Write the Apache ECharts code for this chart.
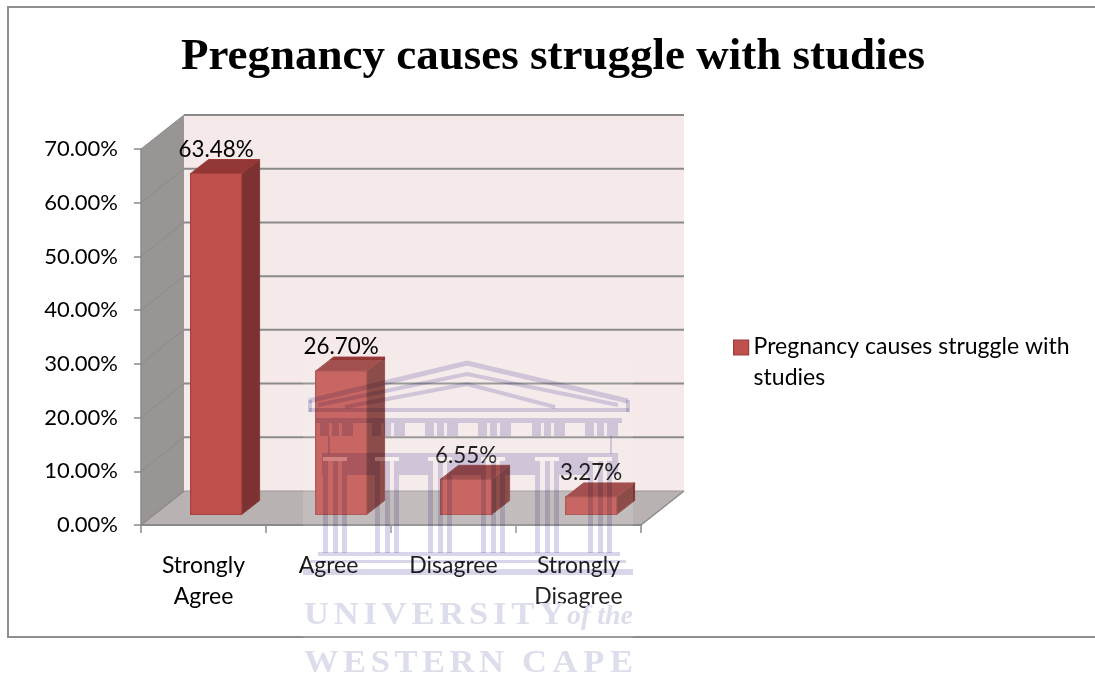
<!DOCTYPE html>
<html>
<head>
<meta charset="utf-8">
<script src="https://cdn.jsdelivr.net/npm/echarts@6/dist/echarts.min.js"></script>
<style>html,body{margin:0;padding:0;background:#fff}#chart{width:1095px;height:675px}</style>
</head>
<body>
<div id="chart"></div>
<script>
const categories = ['Strongly\nAgree', 'Agree', 'Disagree', 'Strongly\nDisagree'];
const percentages = [63.48, 26.70, 6.55, 3.27];
const axisTicks = [0, 10, 20, 30, 40, 50, 60, 70];
const seriesName = 'Pregnancy causes struggle with\nstudies';
const chartTitle = 'Pregnancy causes struggle with studies';

// Oblique projection used for the box effect: room depth and bar placement in pixels.
const ROOM_DX = 43, ROOM_DY = 34;
const BAR_FRONT_DX = 12.6, BAR_FRONT_DY = 10.5;
const BAR_DEPTH_DX = 18, BAR_DEPTH_DY = 14;
const BAR_WIDTH_RATIO = 0.408;

const UI_FONT = 'Lato, "Open Sans", sans-serif';
const GRID_COLOR = '#8a8a8a';
const TEXT_COLOR = '#000';

const chart = echarts.init(document.getElementById('chart'), null, { renderer: 'canvas' });

function poly(points, fill, stroke, width) {
  return { type: 'polygon', shape: { points }, style: { fill, stroke: stroke || null, lineWidth: width || 0 } };
}

// Walls, floor and gridlines of the room; each tick contributes its own lines.
function renderRoom(params, api) {
  const sys = params.coordSys;
  const v = api.value(1);
  const y = api.coord([0, v])[1];
  const x0 = sys.x, x1 = sys.x + sys.width;
  const bottom = sys.y + sys.height, top = sys.y;
  const children = [];
  if (params.dataIndex === 0) {
    children.push(poly([[x0 + ROOM_DX, top - ROOM_DY], [x1 + ROOM_DX, top - ROOM_DY], [x1 + ROOM_DX, bottom - ROOM_DY], [x0 + ROOM_DX, bottom - ROOM_DY]], '#f5e9e9'));
    children.push(poly([[x0, bottom], [x0, top], [x0 + ROOM_DX, top - ROOM_DY], [x0 + ROOM_DX, bottom - ROOM_DY]], '#9a9595'));
    children.push(poly([[x0, bottom], [x1, bottom], [x1 + ROOM_DX, bottom - ROOM_DY], [x0 + ROOM_DX, bottom - ROOM_DY]], '#b9b2b2'));
  }
  const isFloor = v === 0;
  if (!isFloor) {
    children.push({ type: 'line', shape: { x1: x0 + ROOM_DX, y1: y - ROOM_DY, x2: x1 + ROOM_DX, y2: y - ROOM_DY }, style: { stroke: GRID_COLOR, lineWidth: 2 } });
  }
  children.push({ type: 'line', shape: { x1: x0, y1: y, x2: x0 + ROOM_DX, y2: y - ROOM_DY }, style: { stroke: GRID_COLOR, lineWidth: isFloor ? 1.5 : 1 } });
  if (isFloor) {
    children.push({ type: 'line', shape: { x1: x1, y1: y, x2: x1 + ROOM_DX, y2: y - ROOM_DY }, style: { stroke: GRID_COLOR, lineWidth: 1.5 } });
    children.push({ type: 'line', shape: { x1: x0 + ROOM_DX, y1: y - ROOM_DY, x2: x1 + ROOM_DX, y2: y - ROOM_DY }, style: { stroke: '#9c9696', lineWidth: 1 } });
  }
  return { type: 'group', children };
}

// One projected box per category, with its value printed above the back edge.
function renderBar(params, api) {
  const idx = api.value(0), val = api.value(1);
  const topPt = api.coord([idx, val]);
  const basePt = api.coord([idx, 0]);
  const w = api.size([1, 0])[0] * BAR_WIDTH_RATIO;
  const cx = topPt[0] + BAR_FRONT_DX;
  const l = cx - w / 2, r = cx + w / 2;
  const t = topPt[1] - BAR_FRONT_DY, b = basePt[1] - BAR_FRONT_DY;
  const edge = '#a5423f';
  return {
    type: 'group',
    children: [
      poly([[r, t], [r + BAR_DEPTH_DX, t - BAR_DEPTH_DY], [r + BAR_DEPTH_DX, b - BAR_DEPTH_DY], [r, b]], '#7b3230', '#8a3a38', 1),
      poly([[l, t], [l + BAR_DEPTH_DX, t - BAR_DEPTH_DY], [r + BAR_DEPTH_DX, t - BAR_DEPTH_DY], [r, t]], '#933735', '#9e3d3a', 1),
      poly([[l, t], [r, t], [r, b], [l, b]], '#c0504d', edge, 1.2),
      {
        type: 'text',
        style: {
          x: cx, y: t - BAR_DEPTH_DY - 10, text: val.toFixed(2) + '%',
          font: '22.4px ' + UI_FONT, fill: TEXT_COLOR, align: 'center', verticalAlign: 'middle'
        },
        z2: 10
      }
    ]
  };
}

// Letter-spaced text: glyphs, stretched sideways, are spread evenly between two x positions.
function spacedText(str, x0, x1, baseline, font, fill, stretch) {
  const ctx = document.createElement('canvas').getContext('2d');
  ctx.font = font;
  const glyphs = str.split('');
  const total = glyphs.reduce((s, g) => s + ctx.measureText(g).width * stretch, 0);
  const gap = (x1 - x0 - total) / (glyphs.length - 1);
  let x = x0;
  return glyphs.map(g => {
    const el = { type: 'text', x, y: baseline, scaleX: stretch, z: 100, silent: true,
      style: { text: g, font, fill, textAlign: 'left', textVerticalAlign: 'bottom', blend: 'multiply' } };
    x += ctx.measureText(g).width * stretch + gap;
    return el;
  });
}

// Institutional crest printed across the lower part of the page.
function crestGraphics() {
  const ink = 'rgb(216,214,235)';
  const out = [];
  const rect = (x, y, w, h, fill) => out.push({ type: 'rect', z: 100, silent: true, shape: { x, y, width: w, height: h }, style: { fill: fill || ink, blend: fill ? undefined : 'multiply' } });
  const line = (pts, width) => out.push({ type: 'polyline', z: 100, silent: true, shape: { points: pts }, style: { stroke: ink, lineWidth: width, fill: null, blend: 'multiply' } });

  rect(303, 360, 330, 320, 'rgba(255,255,255,0.13)');

  line([[309, 401], [467, 363], [628, 401]], 5);
  line([[318, 405], [467, 374], [618, 405]], 4);
  line([[345, 407], [467, 384], [555, 407]], 4);
  rect(308, 400, 4, 12);
  rect(626, 400, 4, 12);
  rect(309, 408, 320, 4);
  rect(316, 418, 306, 5);

  const groupCenters = [335, 387, 440, 493, 547, 600];
  groupCenters.forEach(c => {
    rect(c - 15, 423, 9, 13);
    rect(c - 3, 423, 7, 13);
    rect(c + 7, 423, 11, 13);
    // capital and shaft stripes
    rect(c - 12, 457, 24, 4, 'rgba(255,255,255,0.18)');
    [-12, -2, 7].forEach(dx => rect(c + dx, 461, 5, 92));
  });
  rect(328, 436, 2, 18);
  rect(610, 436, 2, 18);
  rect(322, 453, 296, 4);
  groupCenters.forEach((c, i) => {
    const next = i + 1 < groupCenters.length ? groupCenters[i + 1] - 12 : 618;
    rect(c + 12, 457, next - c - 12, 18);
  });
  rect(322, 457, 1, 18);

  rect(318, 552, 302, 4);
  rect(310, 560, 316, 3);
  rect(303, 569, 330, 6);

  const serifBold = 'bold 32px "Liberation Serif", serif';
  const textInk = 'rgb(221,222,236)';
  spacedText('UNIVERSITY', 304, 564, 632, serifBold, textInk, 1.08).forEach(e => out.push(e));
  spacedText('of the', 567, 633, 631, 'italic bold 28px "Liberation Serif", serif', textInk, 1).forEach(e => out.push(e));
  spacedText('WESTERN', 304, 504, 680, serifBold, textInk, 1.08).forEach(e => out.push(e));
  spacedText('CAPE', 522, 633, 680, serifBold, textInk, 1.08).forEach(e => out.push(e));
  return out;
}

const option = {
  animation: false,
  backgroundColor: '#fff',
  title: {
    text: chartTitle, left: 548, top: 30, textAlign: 'center',
    textStyle: { fontFamily: '"Liberation Serif", serif', fontWeight: 'bold', fontSize: 45, color: '#000' }
  },
  legend: {
    left: 733, top: 331, orient: 'vertical', padding: 0,
    itemWidth: 15, itemHeight: 44,
    // The empty sub-path reserves the second line, keeping the swatch beside the first line.
    data: [{ name: seriesName, icon: 'path://M0 0H15V15H0Z M0 44L0 44' }],
    itemStyle: { color: '#c0504d', borderColor: '#983f3c', borderWidth: 1.2 },
    textStyle: { fontFamily: UI_FONT, fontSize: 23, color: TEXT_COLOR, lineHeight: 31 }
  },
  grid: { left: 141, right: 454, top: 149, bottom: 150, containLabel: false },
  xAxis: {
    type: 'category', data: categories, boundaryGap: true, z: 6,
    axisLine: { lineStyle: { color: GRID_COLOR, width: 2 } },
    axisTick: { show: true, length: 8, lineStyle: { color: GRID_COLOR, width: 1.5 } },
    axisLabel: { interval: 0, margin: 25, lineHeight: 31, fontFamily: UI_FONT, fontSize: 23, color: TEXT_COLOR }
  },
  yAxis: {
    type: 'value', min: 0, max: 70, interval: 10, z: 6,
    axisLine: { show: true, lineStyle: { color: GRID_COLOR, width: 1.5 } },
    axisTick: { show: true, length: 7, lineStyle: { color: GRID_COLOR, width: 1.5 } },
    splitLine: { show: false },
    axisLabel: { margin: 23, padding: [3, 0, 0, 0], fontFamily: UI_FONT, fontSize: 22, color: TEXT_COLOR, formatter: v => v.toFixed(2) + '%' }
  },
  graphic: { elements: [
    { type: 'rect', z: -1, silent: true, shape: { x: 8, y: 7, width: 1200, height: 630 }, style: { fill: null, stroke: '#8e8e8e', lineWidth: 2 } }
  ].concat(crestGraphics()) },
  series: [
    {
      type: 'custom', name: 'room', z: 2, silent: true, clip: false,
      renderItem: renderRoom,
      encode: { x: 0, y: 1 },
      data: axisTicks.map(v => [0, v])
    },
    {
      type: 'custom', name: seriesName, z: 3, clip: false,
      itemStyle: { color: '#c0504d' },
      renderItem: renderBar,
      encode: { x: 0, y: 1 },
      data: percentages.map((v, i) => [i, v])
    }
  ]
};
chart.setOption(option);
</script>
</body>
</html>
